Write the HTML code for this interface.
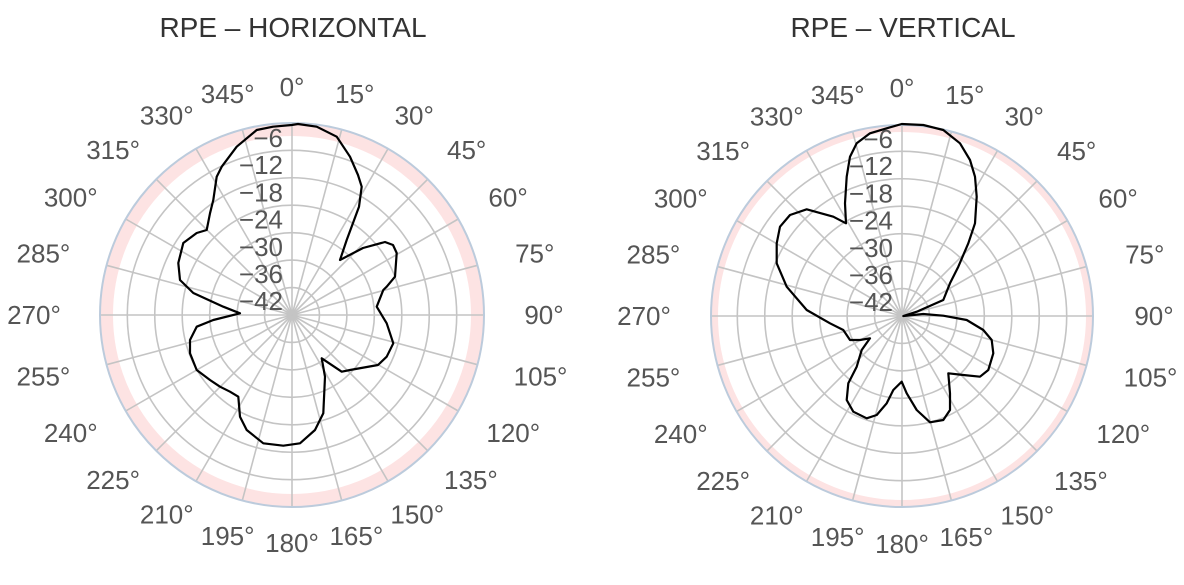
<!DOCTYPE html>
<html><head><meta charset="utf-8"><style>
html,body{margin:0;padding:0;background:#fff;}
svg{display:block;}
text{font-family:"Liberation Sans",sans-serif;fill:#555;}
</style></head><body>
<svg id="s" width="1184" height="585" viewBox="0 0 1184 585" xmlns="http://www.w3.org/2000/svg">
<text x="293" y="37" text-anchor="middle" style="font-size:28px;fill:#333">RPE – HORIZONTAL</text>
<text x="903" y="37" text-anchor="middle" style="font-size:28px;fill:#333">RPE – VERTICAL</text>
</svg>
<script>
var NS="http://www.w3.org/2000/svg",S=document.getElementById('s');
function el(t,a,txt){var e=document.createElementNS(NS,t);for(var k in a)e.setAttribute(k,a[k]);if(txt)e.textContent=txt;S.appendChild(e);return e;}
function chart(cx,cy,R,band,pts){
  el('circle',{cx:cx,cy:cy,r:R-band/2,fill:'none',stroke:'#fde3e3','stroke-width':band});
  for(var k=1;k<=6;k++)el('circle',{cx:cx,cy:cy,r:27.45*k,fill:'none',stroke:'#c4c4c4','stroke-width':1.6});
  for(var a=0;a<360;a+=15){var t=a*Math.PI/180;
    el('line',{x1:cx,y1:cy,x2:cx+R*Math.sin(t),y2:cy-R*Math.cos(t),stroke:'#c4c4c4','stroke-width':1.6});}
  el('circle',{cx:cx,cy:cy,r:R,fill:'none',stroke:'#bccbdc','stroke-width':2});
  var labs=['-6','-12','-18','-24','-30','-36','-42'];
  for(var i=0;i<7;i++)el('text',{x:cx-9,y:cy-177+27.2*i,'text-anchor':'end','dominant-baseline':'central',style:'font-size:26px'},labs[i].replace('-','−'));
  for(var a=0;a<360;a+=15){var t=a*Math.PI/180,s=Math.sin(t),c=Math.cos(t);
    var txt=a+'°',hw=(a<100?(a<10?17:24):30),hh=10;
    var r=218+10*s*s;
    var x=cx+r*s+s*hw, y=cy-r*c-c*hh;
    el('text',{x:x,y:y,'text-anchor':'middle','dominant-baseline':'central',style:'font-size:26px'},txt);}
  el('polygon',{points:pts,fill:'none',stroke:'#000','stroke-width':2.2,'stroke-linejoin':'round'});
}
chart(292,315,192,13,"291.7,125 298,124 316.7,126.7 336.7,136.7 350,156.7 358,175 361.7,186.7 359,206.7 353,223 346.7,240 340,260 363,248 385,242 393,245 396.7,253 395,276.7 386.7,286.7 383.3,290 376.7,306.7 386.7,323.3 393.3,343.3 386.7,356.7 378,365 350,370 341.7,371.7 321.7,358.3 325,376.7 323.3,413.3 315,430 300,443.3 283.3,445.7 263.3,443.3 246.7,430 240,416.7 238.3,396.7 230,391.7 220,386.7 210,380 196.7,370 190,353.3 190,340 196.7,326.7 213.3,320 240,313.3 223.3,306.7 193.3,293 180,280 178.3,263 183.3,243 196.7,233 206.7,230 210,213.3 213.3,200 216.7,176.7 221.7,166.7 236.7,146.7 256.7,130 273,126.7");
chart(902,316,191,7,"901.7,124 886.7,128.3 870,133.3 856.7,143.3 850,156.7 846.7,176.7 845,203.3 846,223.3 833.3,216.7 806.7,209.3 790,215 780,226.7 776.7,243.3 776.7,263.3 786.7,286.7 806.7,310 830,323.3 843.3,330 850,340 860,340 870,338.3 861.7,350 856.7,366.7 848.3,383.3 846.7,400 853.3,411.7 866.7,418.3 876.7,415 886.7,403.3 893.3,390 901.7,381.7 906.7,393.3 916.7,410 930,422.3 943.3,420 950,410 950,393.3 948.3,373.3 963.3,375 980,376.7 988.3,370 993.3,353.3 991.7,340 983.3,330 966.7,320 943.3,315.7 923.3,314 903.3,316 916.7,311.7 943.3,300 950,283.3 958.3,266.7 968.3,243.3 975,223.3 976.7,196.7 975,176.7 970,160 960,143.3 943.3,130 923.3,125");
</script>
</body></html>
